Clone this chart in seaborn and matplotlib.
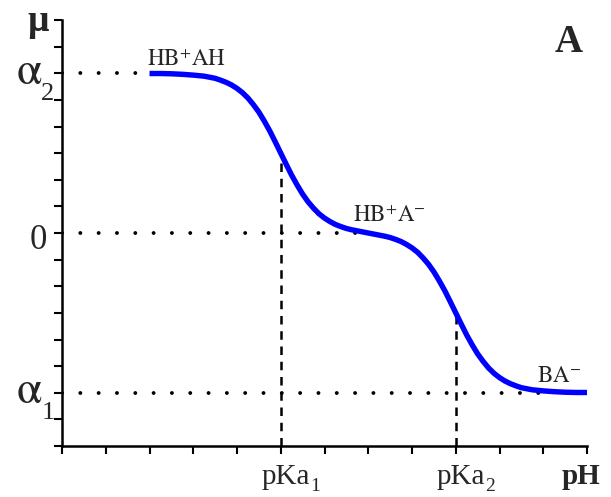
import matplotlib
matplotlib.use("Agg")
import matplotlib.pyplot as plt
import pandas as pd
import seaborn as sns

# Dipole moment vs pH for a zwitterion-forming ampholyte (two successive deprotonations)
ph = [2.0, 2.25, 2.5, 2.75, 3.0, 3.25, 3.5, 3.625, 3.75, 3.875,
      4.0, 4.125, 4.25, 4.375, 4.5, 4.625, 4.75, 4.875,
      5.0, 5.125, 5.25, 5.375, 5.5, 5.625, 5.75, 5.875,
      6.0, 6.125, 6.25, 6.375, 6.5, 6.625, 6.75, 6.875,
      7.0, 7.125, 7.25, 7.375, 7.5, 7.625, 7.75, 7.875,
      8.0, 8.125, 8.25, 8.375, 8.5, 8.625, 8.75, 8.875,
      9.0, 9.125, 9.25, 9.375, 9.5, 9.625, 9.75, 9.875,
      10.0, 10.125, 10.25, 10.375, 10.5, 10.75,
      11.0, 11.25, 11.5, 11.75, 12.0]
mu = [5.99, 5.99, 5.98, 5.96, 5.93, 5.89, 5.81, 5.74, 5.66, 5.56,
      5.43, 5.27, 5.07, 4.82, 4.54, 4.20, 3.83, 3.42,
      3.00, 2.58, 2.17, 1.80, 1.46, 1.17, 0.93, 0.72,
      0.56, 0.43, 0.32, 0.24, 0.17, 0.12, 0.08, 0.04,
      0.00, -0.04, -0.08, -0.12, -0.17, -0.24, -0.32, -0.43,
      -0.56, -0.72, -0.93, -1.17, -1.46, -1.80, -2.17, -2.58,
      -3.00, -3.42, -3.83, -4.20, -4.54, -4.82, -5.07, -5.27,
      -5.43, -5.56, -5.66, -5.74, -5.81, -5.89,
      -5.93, -5.96, -5.98, -5.99, -5.99]

pka_values = [5, 9]
pka_names = ["pKa", "pKa"]
pka_subs = ["1", "2"]
mu_at_pka = [3.0, -3.0]

levels = [6, 0, -6]
level_names = ["α", "0", "α"]
level_subs = ["2", "", "1"]

species = [r"$\mathrm{HB}^{+}\mathrm{AH}$", r"$\mathrm{HB}^{+}\mathrm{A}^{-}$", r"$\mathrm{BA}^{-}$"]

df = pd.DataFrame({"pH": ph, "mu": mu})

sns.set_style("ticks")
plt.rcParams["font.family"] = ["Liberation Serif", "DejaVu Serif"]
plt.rcParams["mathtext.fontset"] = "stix"

fig = plt.figure(figsize=(6.11, 4.97), dpi=100)
ax = fig.add_axes([62 / 611, 1 - 446 / 497, 525 / 611, 426 / 497])

sns.lineplot(data=df, x="pH", y="mu", ax=ax, color="#0000ff", lw=3.9,
             solid_capstyle="butt", zorder=3)

# dotted guides from the axis to each plateau / inflection
guide_ends = [2.3, 7.0, 11.0]
for lev, end in zip(levels, guide_ends):
    ax.plot([0, end], [lev, lev], color="black", lw=2.8,
            linestyle=(0, (0.01, 4.7)), dash_capstyle="round", zorder=2)

# dashed drop lines at the pKa values
for xv, yv in zip(pka_values, mu_at_pka):
    ax.plot([xv, xv], [-8, yv], color="black", lw=1.8,
            linestyle=(0, (3.4, 2.7)), zorder=2)

ax.set_xlim(0, 12)
ax.set_ylim(-8, 8)
ax.set_xticks(range(0, 13))
ax.set_yticks(range(-8, 9))
ax.set_xticklabels([])
ax.set_yticklabels([])
ax.tick_params(direction="out", length=6, width=1.5, color="black")
for side in ["top", "right"]:
    ax.spines[side].set_visible(False)
for side in ["left", "bottom"]:
    ax.spines[side].set_linewidth(1.8)
    ax.spines[side].set_color("black")
ax.set_xlabel("")
ax.set_ylabel("")

# y-level labels with low-hanging subscripts
for lev, name, sub in zip(levels, level_names, level_subs):
    if sub:
        main = ax.text(-0.46, lev - 0.4, name, ha="right", va="baseline",
                       fontsize=33, family="STIXGeneral", clip_on=False)
        ax.annotate(sub, xy=(1.0, lev - 1.0), xycoords=(main, "data"),
                    xytext=(-0.5, 0), textcoords="offset points",
                    ha="left", va="baseline", fontsize=19,
                    annotation_clip=False)
    else:
        ax.text(-0.34, lev - 0.6, name, ha="right", va="baseline",
                fontsize=25, clip_on=False)

# x labels at the pKa positions
for xv, name, sub in zip(pka_values, pka_names, pka_subs):
    main = ax.text(xv - 0.43, -9.42, name, ha="left", va="baseline",
                   fontsize=21, clip_on=False)
    ax.annotate(sub, xy=(1.0, -9.68), xycoords=(main, "data"),
                xytext=(0.0, 0), textcoords="offset points",
                ha="left", va="baseline", fontsize=14,
                annotation_clip=False)
ax.text(11.43, -9.42, "pH", ha="left", va="baseline", fontsize=21,
        fontweight="bold", clip_on=False)

# axis symbol for the dipole moment
ax.text(-0.55, 7.6, "μ", ha="center", va="baseline", fontsize=27,
        fontweight="bold", clip_on=False)

# species labels on the plateaus
species_pos = [(1.94, 6.27), (6.65, 0.42), (10.86, -5.59)]
for (sx, sy), lab in zip(species_pos, species):
    ax.text(sx, sy, lab, ha="left", va="baseline", fontsize=16.5)

# panel letter
ax.text(11.59, 6.8, "A", ha="center", va="baseline", fontsize=28,
        fontweight="bold")

fig.savefig("out.png", dpi=100)
